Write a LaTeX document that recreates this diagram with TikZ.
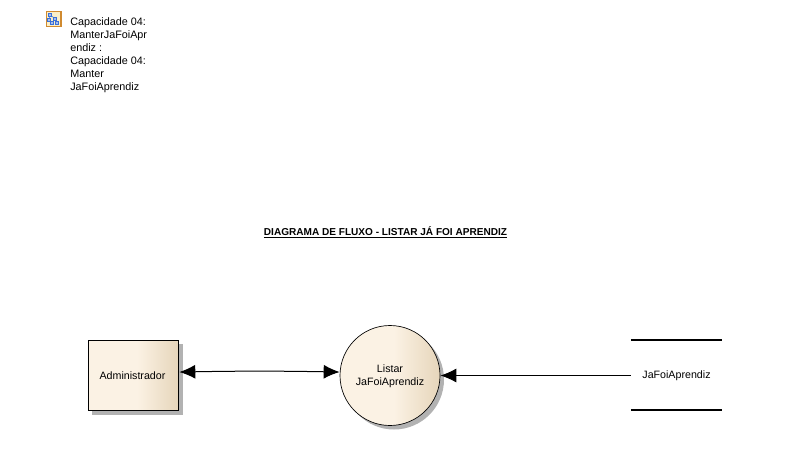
\documentclass[tikz,border=0pt]{standalone}
\usepackage{fontspec}
\setmainfont{Liberation Sans}
\usetikzlibrary{arrows.meta,positioning,shadows}
\definecolor{boxlight}{HTML}{FBF2E4}
\definecolor{boxdark}{HTML}{E6D5BA}
\definecolor{iconfill}{HTML}{FBEFC8}
\definecolor{iconedge}{HTML}{D08A30}
\definecolor{iconblue}{HTML}{3A6FD8}
\pgfdeclarehorizontalshading{boxshade}{100bp}{color(0bp)=(boxlight); color(52bp)=(boxlight); color(75bp)=(boxdark); color(100bp)=(boxdark)}
\newcommand{\lowtext}{\rule{0pt}{7.4pt}}
\tikzset{
  shadowed/.style={general shadow={shadow xshift=3pt,shadow yshift=-3pt,fill=black!30}},
  entity/.style={draw=black,line width=.7pt,shading=boxshade,shadowed,minimum width=68pt,minimum height=53pt,inner sep=0pt,font=\fontsize{8}{9.75}\selectfont,align=center},
  process/.style={entity,shape=circle,minimum size=75pt,line width=.5pt},
  store/.style={minimum width=68pt,minimum height=52.5pt,inner sep=0pt,font=\fontsize{8}{9.75}\selectfont},
  storeline/.style={line width=1.5pt},
  flow/.style={line width=.75pt,-{Latex[length=12pt,width=10.5pt]}},
  iconpart/.style={draw=iconblue,fill=iconblue!45,line width=.5pt,minimum size=2.2pt,inner sep=0pt},
  note/.style={font=\fontsize{8.1}{9.75}\selectfont,align=left,inner sep=0pt,anchor=north west}
}
\begin{document}
\begin{tikzpicture}[x=.75pt,y=-.75pt]
\useasboundingbox (0,0) rectangle (803,475);
% element icon and its note
\node[draw=iconedge,fill=iconfill,line width=1pt,minimum size=11pt,inner sep=0pt] (icon) at (53.5,19) {};
\node[iconpart] (icontop) at (50,15) {};
\node[iconpart] (iconmid) at (55,18.5) {};
\node[iconpart] (iconside) at (49,19.5) {};
\node[iconpart] (iconleft) at (52,23) {};
\node[iconpart] (iconright) at (57,23) {};
\draw[iconblue,line width=.4pt] (icontop) -- (iconmid);
\draw[iconblue,line width=.4pt] (icontop) -- (iconside);
\draw[iconblue,line width=.4pt] (iconmid) -- (iconleft);
\draw[iconblue,line width=.4pt] (iconmid) -- (iconright);
\node[note] (note) at (70,17.2) {Capacidade 04:\\ManterJaFoiApr\\endiz :\\Capacidade 04:\\Manter\\JaFoiAprendiz};
% title
\node[font=\fontsize{7.55}{9.75}\selectfont\bfseries,inner sep=0pt] (title) at (385.5,232.5) {\underline{DIAGRAMA DE FLUXO - LISTAR JÁ FOI APRENDIZ}};
% flow elements
\node[entity] (admin) at (133.5,375.5) {\hspace*{-1.5pt}Administrador};
\node[process] (listar) at (390,375.5) {\lowtext Listar\\JaFoiAprendiz};
\node[store] (jafoi) at (676.5,375) {\lowtext JaFoiAprendiz};
\draw[storeline] (jafoi.north west) -- (jafoi.north east);
\draw[storeline] (jafoi.south west) -- (jafoi.south east);
\draw[flow,{Latex[length=12pt,width=10.5pt]}-{Latex[length=12pt,width=10.5pt]}] ([yshift=2.6pt]admin.east) to[bend left=1] ([yshift=2.6pt]listar.west);
\draw[flow] ([yshift=-.375pt]jafoi.west) -- (listar.east);
\end{tikzpicture}
\end{document}
